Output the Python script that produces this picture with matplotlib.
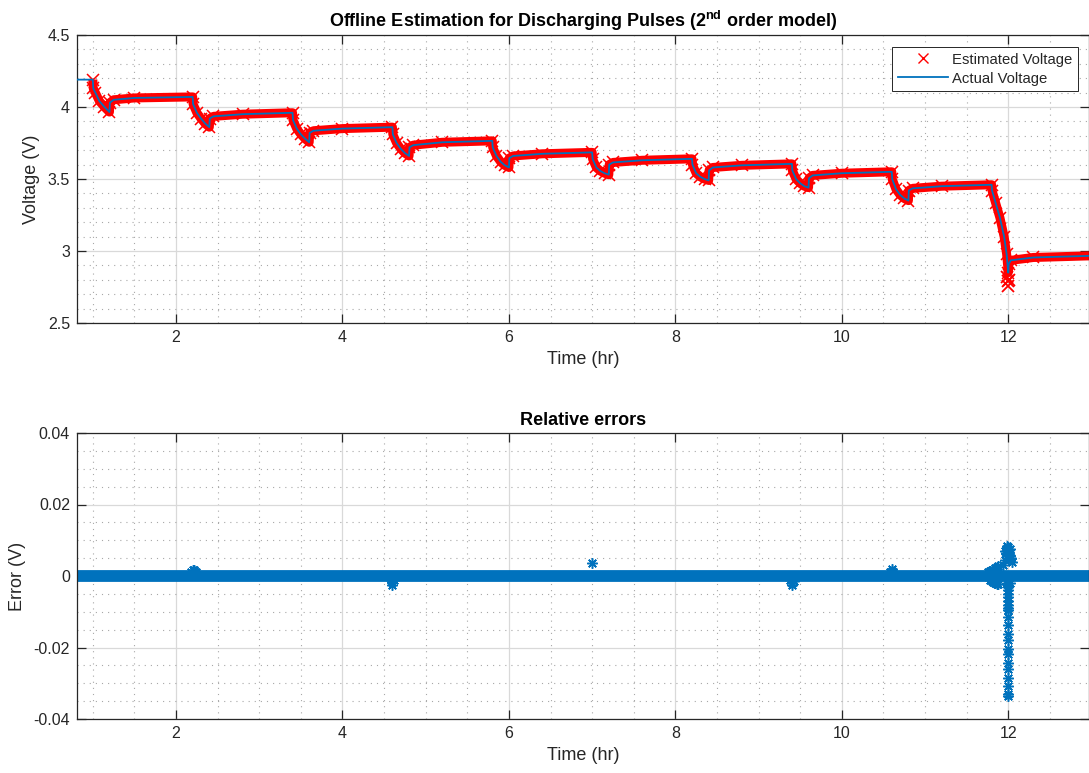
import matplotlib
matplotlib.use("Agg")
import matplotlib.pyplot as plt
from matplotlib.ticker import MultipleLocator, FuncFormatter
from matplotlib.lines import Line2D

plt.rcParams['font.family'] = ['Liberation Sans', 'DejaVu Sans']
plt.rcParams['axes.unicode_minus'] = False
plt.rcParams['mathtext.fontset'] = 'custom'
plt.rcParams['mathtext.rm'] = 'Liberation Sans'
plt.rcParams['mathtext.bf'] = 'Liberation Sans:bold'

# ------------------------------------------------------------
# Data (time in hr, voltage in V)
# ------------------------------------------------------------
t_act = [0.81, 1.00,
         1.005, 1.03, 1.08, 1.14, 1.20, 1.205, 1.25, 1.50, 2.20,
         2.205, 2.25, 2.30, 2.35, 2.40, 2.405, 2.45, 2.80, 3.40,
         3.405, 3.45, 3.50, 3.55, 3.60, 3.605, 3.65, 4.00, 4.60,
         4.605, 4.65, 4.70, 4.75, 4.80, 4.805, 4.85, 5.20, 5.80,
         5.805, 5.85, 5.90, 5.95, 6.00, 6.005, 6.05, 6.40, 7.00,
         7.005, 7.05, 7.10, 7.15, 7.20, 7.205, 7.25, 7.60, 8.20,
         8.205, 8.25, 8.30, 8.35, 8.40, 8.405, 8.45, 8.80, 9.40,
         9.405, 9.45, 9.50, 9.55, 9.60, 9.605, 9.65, 10.00, 10.60,
         10.605, 10.65, 10.70, 10.75, 10.80, 10.805, 10.85, 11.20, 11.80,
         11.805, 11.85, 11.90, 11.95, 11.98, 12.00, 12.005, 12.03, 12.30, 13.20]
v_act = [4.19, 4.19,
         4.13, 4.10, 4.04, 4.00, 3.965, 4.03, 4.05, 4.063, 4.07,
         4.02, 3.96, 3.92, 3.885, 3.86, 3.92, 3.935, 3.95, 3.96,
         3.91, 3.85, 3.81, 3.78, 3.755, 3.82, 3.835, 3.85, 3.86,
         3.81, 3.75, 3.71, 3.68, 3.66, 3.72, 3.735, 3.755, 3.765,
         3.72, 3.66, 3.62, 3.595, 3.58, 3.645, 3.66, 3.675, 3.685,
         3.64, 3.58, 3.555, 3.54, 3.53, 3.60, 3.615, 3.63, 3.64,
         3.60, 3.54, 3.515, 3.50, 3.49, 3.56, 3.58, 3.595, 3.605,
         3.56, 3.50, 3.47, 3.45, 3.44, 3.505, 3.525, 3.54, 3.55,
         3.50, 3.43, 3.39, 3.365, 3.35, 3.42, 3.435, 3.45, 3.46,
         3.42, 3.33, 3.23, 3.10, 2.98, 2.85, 2.91, 2.935, 2.955, 2.97]

# estimate overshoots at the bottom of the last pulse
t_est_dip = [11.99, 12.00, 12.00, 12.01]
v_est_dip = [2.82, 2.79, 2.76, 2.80]

# error band near zero and its excursions
base_t = [0.81, 13.20]
base_err = [0.0, 0.0]
spike_t = [2.18, 2.20, 2.22, 2.24, 2.21,
           4.58, 4.60, 4.62, 4.60,
           7.00,
           9.38, 9.40, 9.42, 9.40,
           10.58, 10.60, 10.62, 10.60,
           11.76, 11.78, 11.80, 11.82, 11.84, 11.86, 11.88,
           11.78, 11.80, 11.82, 11.84, 11.86, 11.88,
           11.94, 11.96, 11.98, 12.00, 12.02, 12.04,
           11.96, 11.98, 12.00, 12.02, 11.97, 11.99, 12.01, 12.03,
           11.98, 12.00, 12.02, 12.00,
           12.00, 12.00, 12.00, 12.00, 12.00, 12.00, 12.00, 12.00, 12.00,
           12.00, 12.00, 12.00, 12.00, 12.00, 12.00, 12.00, 12.00, 12.00, 12.00, 12.00]
spike_err = [0.0012, 0.0016, 0.0014, 0.0010, 0.0018,
             -0.0012, -0.0018, -0.0012, -0.0024,
             0.0035,
             -0.0012, -0.0020, -0.0014, -0.0026,
             0.0010, 0.0015, 0.0011, 0.0019,
             0.0012, 0.0015, 0.0016, 0.0018, 0.0022, 0.0026, 0.0028,
             -0.0012, -0.0015, -0.0018, -0.0020, -0.0022, -0.0022,
             0.0030, 0.0045, 0.0055, 0.0060, 0.0055, 0.0040,
             0.0070, 0.0078, 0.0082, 0.0076, 0.0065, 0.0085, 0.0072, 0.0050,
             -0.0020, -0.0025, -0.0020, -0.0010,
             -0.0030, -0.0040, -0.0050, -0.0060, -0.0070, -0.0080, -0.0090, -0.0096, -0.0115,
             -0.0137, -0.0162, -0.0178, -0.0203, -0.0219, -0.0244, -0.0260, -0.0285, -0.0307, -0.0329, -0.0335]

blue = '#0072BD'
red = '#FF0000'
ink = '#262626'

fig = plt.figure(figsize=(10.89, 7.73), dpi=100)
W, H = 1089.0, 773.0
ax1 = fig.add_axes([77 / W, (H - 323) / H, (W - 77) / W, 288 / H])
ax2 = fig.add_axes([77 / W, (H - 719) / H, (W - 77) / W, 286 / H])


def matlab_style(ax, ystep, yminor):
    ax.set_xlim(0.81, 12.97)
    ax.xaxis.set_major_locator(MultipleLocator(2))
    ax.xaxis.set_minor_locator(MultipleLocator(0.5))
    ax.yaxis.set_major_locator(MultipleLocator(ystep))
    ax.yaxis.set_minor_locator(MultipleLocator(yminor))
    ax.yaxis.set_major_formatter(FuncFormatter(lambda v, p: '%g' % round(v, 6)))
    ax.grid(which='major', color='#d9d9d9', lw=0.9, ls='-')
    ax.grid(which='minor', color='#a8a8a8', lw=0.8, ls=(0, (1, 4.5)))
    ax.set_axisbelow(True)
    ax.tick_params(which='major', direction='in', length=6.5, width=0.9,
                   top=True, right=True, colors=ink, labelsize=11.5, pad=5)
    ax.tick_params(which='minor', length=0)
    for s in ax.spines.values():
        s.set_color(ink)
        s.set_linewidth(0.9)


# ---------------- top: voltage ----------------
matlab_style(ax1, 0.5, 0.1)
ax1.set_ylim(2.5, 4.5)
ax1.plot(t_act[1:], v_act[1:], color=red, lw=6.5, solid_capstyle='butt', zorder=2)
ax1.plot(t_est_dip, v_est_dip, 'x', color=red, ms=8, mew=1.3, zorder=2)
ax1.plot(t_act[1:], v_act[1:], 'x', color=red, ms=8, mew=1.1, zorder=2)
ax1.plot(t_act, v_act, color=blue, lw=1.3, zorder=3)
ax1.set_title(r'Offline Estimation for Discharging Pulses (2$^{\mathbf{nd}}$ order model)',
              fontsize=13, fontweight='bold', color='black', pad=6)
ax1.set_xlabel('Time (hr)', fontsize=13, color=ink, labelpad=4)
ax1.set_ylabel('Voltage (V)', fontsize=13, color=ink)
ax1.yaxis.set_label_coords((40 - 77) / 1012, 0.5)

handles = [Line2D([], [], ls='none', marker='x', color=red, ms=6.5, mew=1.0),
           Line2D([], [], color=blue, lw=1.3)]
leg = ax1.legend(handles, ['Estimated Voltage', 'Actual Voltage'], loc='upper right',
                 bbox_to_anchor=(0.989, 0.958), fontsize=10.7, frameon=True, fancybox=False,
                 edgecolor=ink, framealpha=1, handlelength=3.35, handletextpad=0.3,
                 labelspacing=0.34, borderpad=0.37, borderaxespad=0)
leg.get_frame().set_linewidth(0.7)
for txt in leg.get_texts():
    txt.set_color(ink)

# ---------------- bottom: error ----------------
matlab_style(ax2, 0.02, 0.005)
ax2.set_ylim(-0.04, 0.04)
ax2.plot(base_t, base_err, color=blue, lw=8.5, solid_capstyle='butt', zorder=2)
ax2.plot(spike_t, spike_err, ls='none', marker=(8, 2, 0), color=blue, ms=7.5, mew=1.1, zorder=3)
ax2.set_title('Relative errors', fontsize=13, fontweight='bold', color='black', pad=6)
ax2.set_xlabel('Time (hr)', fontsize=13, color=ink, labelpad=4)
ax2.set_ylabel('Error (V)', fontsize=13, color=ink)
ax2.yaxis.set_label_coords((26 - 77) / 1012, 0.5)

fig.savefig('out.png', dpi=100)
